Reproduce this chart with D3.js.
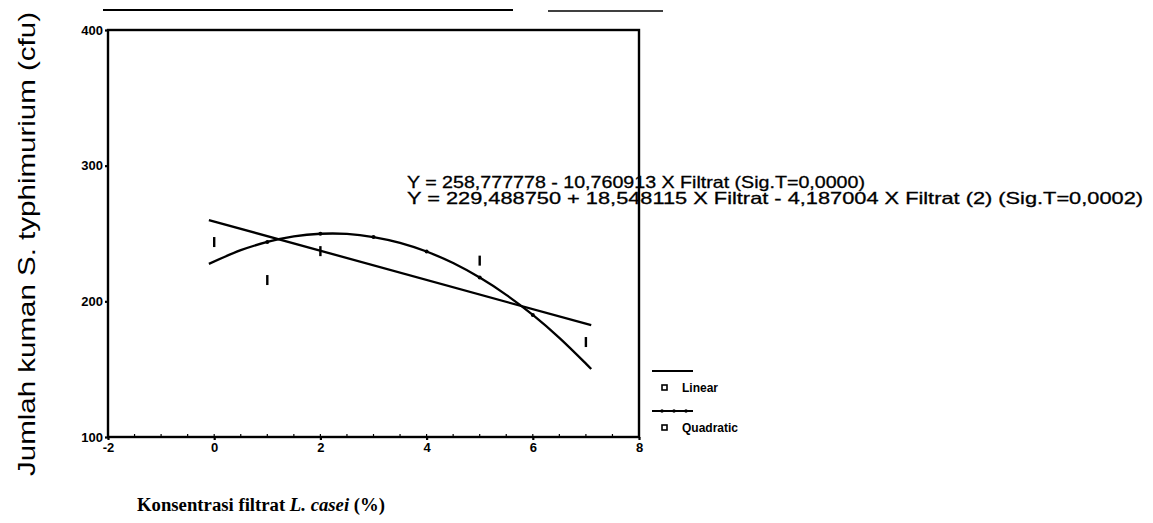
<!DOCTYPE html>
<html>
<head>
<meta charset="utf-8">
<script src="https://cdn.jsdelivr.net/npm/d3@7"></script>
<style>
  body { margin: 0; background: #fff; }
  svg { display: block; }
</style>
</head>
<body>
<div id="chart"></div>
<script>
// observed counts (small vertical markers)
const obsX = [0, 1, 2, 5, 7];
const obsY = [243.7, 215.7, 237, 230, 170];

// fitted lines
const linX = [-0.1, 7.1];
const linY = [259.9, 182.4];
const quadX = [-0.1, 0.5, 1, 1.5, 2, 2.5, 3, 3.5, 4, 4.5, 5, 5.5, 6, 6.5, 7, 7.1];
const quadY = [227.6, 237.7, 243.8, 247.9, 249.8, 249.7, 247.4, 243.1, 236.7, 228.2, 217.5, 204.8, 190.0, 173.1, 154.1, 150.1];
const quadDotX = [1, 2, 3, 4, 5, 6];

const xTicks = [-2, 0, 2, 4, 6, 8];
const yTicks = [100, 200, 300, 400];
const eqLines = [
  "Y = 258,777778 - 10,760913 X Filtrat (Sig.T=0,0000)",
  "Y = 229,488750 + 18,548115 X Filtrat - 4,187004 X Filtrat (2) (Sig.T=0,0002)"
];
const legendNames = ["Linear", "Quadratic"];

const W = 1153, H = 523;
const margin = { top: 30, right: 514, bottom: 86, left: 108 };
const width = W - margin.left - margin.right;
const height = H - margin.top - margin.bottom;

const svg = d3.select("#chart").append("svg")
  .attr("width", W)
  .attr("height", H);

const g = svg.append("g")
  .attr("transform", "translate(" + margin.left + "," + margin.top + ")");

const x = d3.scaleLinear().domain([-2, 8]).range([0, width]);
const y = d3.scaleLinear().domain([100, 400]).range([height, 0]);

// scan artefact line above the frame
svg.append("line").attr("x1", 103).attr("x2", 513).attr("y1", 10).attr("y2", 10)
  .attr("stroke", "#000").attr("stroke-width", 1.8);
svg.append("line").attr("x1", 548).attr("x2", 663).attr("y1", 11).attr("y2", 11)
  .attr("stroke", "#000").attr("stroke-width", 1.3);

// frame
g.append("rect")
  .attr("width", width).attr("height", height)
  .attr("fill", "none").attr("stroke", "#000").attr("stroke-width", 2.4);

// axes
const xAxis = g.append("g")
  .attr("transform", "translate(0," + height + ")")
  .call(d3.axisBottom(x).tickValues(xTicks).tickSize(3).tickPadding(3).tickFormat(d => String(d)));
const yAxis = g.append("g")
  .call(d3.axisLeft(y).tickValues(yTicks).tickSize(3).tickPadding(2).tickFormat(d => String(d)));

[xAxis, yAxis].forEach(a => {
  a.select(".domain").remove();
  a.selectAll("line").attr("stroke", "#000").attr("stroke-width", 2.2);
  a.selectAll("text")
    .attr("fill", "#000")
    .style("font-family", "'Liberation Sans', Arial, sans-serif")
    .style("font-weight", "bold")
    .style("font-size", "13px");
});

// minor ticks inside along the bottom
g.append("g").selectAll("line")
  .data(d3.range(-2, 8.01, 0.5))
  .join("line")
  .attr("x1", d => x(d)).attr("x2", d => x(d))
  .attr("y1", height).attr("y2", height - 3)
  .attr("stroke", "#000").attr("stroke-width", 1.2);

// fitted lines
const line = d3.line().x(d => x(d[0])).y(d => y(d[1]));
g.append("path")
  .datum(linX.map((v, i) => [v, linY[i]]))
  .attr("d", line)
  .attr("fill", "none").attr("stroke", "#000").attr("stroke-width", 2.3);

g.append("path")
  .datum(quadX.map((v, i) => [v, quadY[i]]))
  .attr("d", line.curve(d3.curveCatmullRom))
  .attr("fill", "none").attr("stroke", "#000").attr("stroke-width", 2.3);

g.append("g").selectAll("circle")
  .data(quadDotX)
  .join("circle")
  .attr("cx", d => x(d))
  .attr("cy", d => y(quadY[quadX.indexOf(d)]))
  .attr("r", 2).attr("fill", "#000");

// observed values
g.append("g").selectAll("rect")
  .data(obsX.map((v, i) => [v, obsY[i]]))
  .join("rect")
  .attr("x", d => x(d[0]) - 1.2)
  .attr("y", d => y(d[1]) - 5)
  .attr("width", 2.4).attr("height", 10)
  .attr("fill", "#000");

// equations
svg.append("g").selectAll("text")
  .data(eqLines)
  .join("text")
  .attr("x", 407)
  .attr("y", (d, i) => 188 + i * 16)
  .attr("textLength", (d, i) => i === 0 ? 458 : 736)
  .attr("lengthAdjust", "spacingAndGlyphs")
  .style("font-family", "'Liberation Sans', Arial, sans-serif")
  .style("font-size", "16.5px")
  .style("stroke", "#000").style("stroke-width", 0.3)
  .text(d => d);

// legend
const leg = svg.append("g").attr("transform", "translate(652,371)");
legendNames.forEach((name, i) => {
  const row = leg.append("g").attr("transform", "translate(0," + i * 40 + ")");
  row.append("line").attr("x1", 0).attr("x2", 41).attr("y1", 0).attr("y2", 0)
    .attr("stroke", "#000").attr("stroke-width", 1.8);
  if (i === 1) {
    [10, 22, 34].forEach(cx => row.append("circle").attr("cx", cx).attr("cy", 0).attr("r", 1.7).attr("fill", "#000"));
  }
  row.append("rect").attr("x", 10).attr("y", 14).attr("width", 5).attr("height", 5)
    .attr("fill", "none").attr("stroke", "#000").attr("stroke-width", 1.6);
  row.append("text").attr("x", 30).attr("y", 21)
    .style("font-family", "'Liberation Sans', Arial, sans-serif")
    .style("font-size", "12px")
    .style("font-weight", "bold")
    .text(name);
});

// axis titles
const xt = svg.append("text")
  .attr("x", 137).attr("y", 511)
  .attr("textLength", 248)
  .attr("lengthAdjust", "spacingAndGlyphs")
  .style("font-family", "'Liberation Serif', 'Times New Roman', serif")
  .style("font-weight", "bold")
  .style("font-size", "18.5px");
xt.append("tspan").text("Konsentrasi filtrat ");
xt.append("tspan").style("font-style", "italic").text("L. casei");
xt.append("tspan").text(" (%)");

svg.append("text")
  .attr("transform", "translate(35,476) rotate(-90)")
  .attr("textLength", 464)
  .attr("lengthAdjust", "spacingAndGlyphs")
  .style("font-family", "'Liberation Sans', Arial, sans-serif")
  .style("font-size", "24px")
  .text("Jumlah kuman S. typhimurium (cfu)");
</script>
</body>
</html>
